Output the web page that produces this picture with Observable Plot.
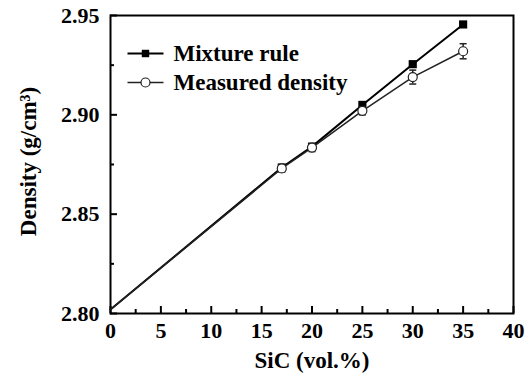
<!DOCTYPE html>
<html>
<head>
<meta charset="utf-8">
<script src="https://cdn.jsdelivr.net/npm/d3@7"></script>
<script src="https://cdn.jsdelivr.net/npm/@observablehq/plot@0.6"></script>
<style>
  html, body { margin: 0; padding: 0; background: #fff; }
</style>
</head>
<body>
<div id="chart"></div>
<script>
// ---- data ----
const sic = [0, 17, 20, 25, 30, 35];
const mixture = [2.802, 2.8735, 2.884, 2.905, 2.9255, 2.9455];
const measured = [2.802, 2.873, 2.8835, 2.902, 2.919, 2.932];
const measuredErr = [0, 0.0018, 0.002, 0.002, 0.0035, 0.0038];
const seriesNames = ["Mixture rule", "Measured density"];
const xTicks = [0, 5, 10, 15, 20, 25, 30, 35, 40];
const xMinorTicks = [2.5, 7.5, 12.5, 17.5, 22.5, 27.5, 32.5, 37.5];
const yTicks = [2.80, 2.85, 2.90, 2.95];
const yMinorTicks = [2.825, 2.875, 2.925];
const xLabel = "SiC (vol.%)";
const yLabel = "Density (g/cm³)";

// ---- layout ----
const W = 531, H = 379;
const mL = 110, mR = 18, mT = 15, mB = 66;
const plotW = W - mL - mR, plotH = H - mT - mB;
const font = "'Liberation Serif', 'Times New Roman', serif";

const idx = sic.map((_, i) => i);
const idxPts = idx.filter(i => i > 0);
const idxErr = idx.filter(i => measuredErr[i] > 0);

// custom symbol: horizontal segment of half-length r
const hSeg = { draw(ctx, size) { const r = Math.sqrt(size / Math.PI); ctx.moveTo(-r, 0); ctx.lineTo(r, 0); } };

const tickTxt = { fontFamily: font, fontWeight: "bold", fontSize: 22, fill: "black" };
const txt = { fontFamily: font, fontWeight: "bold", fontSize: 23, fill: "black" };

const chart = Plot.plot({
  width: W, height: H,
  marginLeft: mL, marginRight: mR, marginTop: mT, marginBottom: mB,
  style: { fontFamily: font, background: "white" },
  x: { domain: [0, 40] },
  y: { domain: [2.80, 2.95] },
  marks: [
    Plot.axisX({ ticks: xTicks, tickSize: 0, tickPadding: 9, tickFormat: d => String(d), label: null, ...tickTxt }),
    Plot.axisY({ ticks: yTicks, tickSize: 0, tickPadding: 11, tickFormat: d => d.toFixed(2), label: null, ...tickTxt }),
    // inward ticks
    Plot.tickX(xTicks, { x: d => d, insetTop: plotH - 7, stroke: "black", strokeWidth: 2 }),
    Plot.tickX(xMinorTicks, { x: d => d, insetTop: plotH - 4, stroke: "black", strokeWidth: 2 }),
    Plot.tickY(yTicks, { y: d => d, insetRight: plotW - 7, stroke: "black", strokeWidth: 2 }),
    Plot.tickY(yMinorTicks, { y: d => d, insetRight: plotW - 4, stroke: "black", strokeWidth: 2 }),
    Plot.frame({ stroke: "black", strokeWidth: 2 }),
    // mixture rule
    Plot.line(idx, { x: i => sic[i], y: i => mixture[i], stroke: "black", strokeWidth: 2 }),
    Plot.dot(idxPts, { x: i => sic[i], y: i => mixture[i], symbol: "square", r: 4.6, fill: "black", stroke: "none" }),
    // measured density
    Plot.line(idx, { x: i => sic[i], y: i => measured[i], stroke: "#222", strokeWidth: 1.5 }),
    Plot.ruleX(idxErr, { x: i => sic[i], y1: i => measured[i] - measuredErr[i], y2: i => measured[i] + measuredErr[i], stroke: "#222", strokeWidth: 1.5 }),
    Plot.dot(idxErr, { x: i => sic[i], y: i => measured[i] - measuredErr[i], symbol: hSeg, r: 3.5, stroke: "#222", strokeWidth: 1.5 }),
    Plot.dot(idxErr, { x: i => sic[i], y: i => measured[i] + measuredErr[i], symbol: hSeg, r: 3.5, stroke: "#222", strokeWidth: 1.5 }),
    Plot.dot(idxPts, { x: i => sic[i], y: i => measured[i], symbol: "circle", r: 4.5, fill: "white", stroke: "#222", strokeWidth: 1.2 }),
    // legend
    Plot.dot([seriesNames[0]], { frameAnchor: "top-left", dx: 35, dy: 38, symbol: hSeg, r: 18, stroke: "black", strokeWidth: 2 }),
    Plot.dot([seriesNames[0]], { frameAnchor: "top-left", dx: 35, dy: 38, symbol: "square", r: 4.2, fill: "black", stroke: "none" }),
    Plot.text([seriesNames[0]], { frameAnchor: "top-left", dx: 63, dy: 38, lineAnchor: "middle", text: d => d, textAnchor: "start", ...txt }),
    Plot.dot([seriesNames[1]], { frameAnchor: "top-left", dx: 35, dy: 67, symbol: hSeg, r: 18, stroke: "#222", strokeWidth: 1.5 }),
    Plot.dot([seriesNames[1]], { frameAnchor: "top-left", dx: 35, dy: 67, symbol: "circle", r: 4.5, fill: "white", stroke: "#222", strokeWidth: 1.2 }),
    Plot.text([seriesNames[1]], { frameAnchor: "top-left", dx: 63, dy: 67, lineAnchor: "middle", text: d => d, textAnchor: "start", ...txt }),
    // axis titles
    Plot.text([xLabel], { frameAnchor: "bottom", dy: 47, lineAnchor: "middle", text: d => d, ...txt }),
    Plot.text([yLabel], { frameAnchor: "left", dx: -82, dy: -3, rotate: -90, textAnchor: "middle", lineAnchor: "middle", text: d => d, ...txt })
  ]
});
document.getElementById("chart").appendChild(chart);
</script>
</body>
</html>
